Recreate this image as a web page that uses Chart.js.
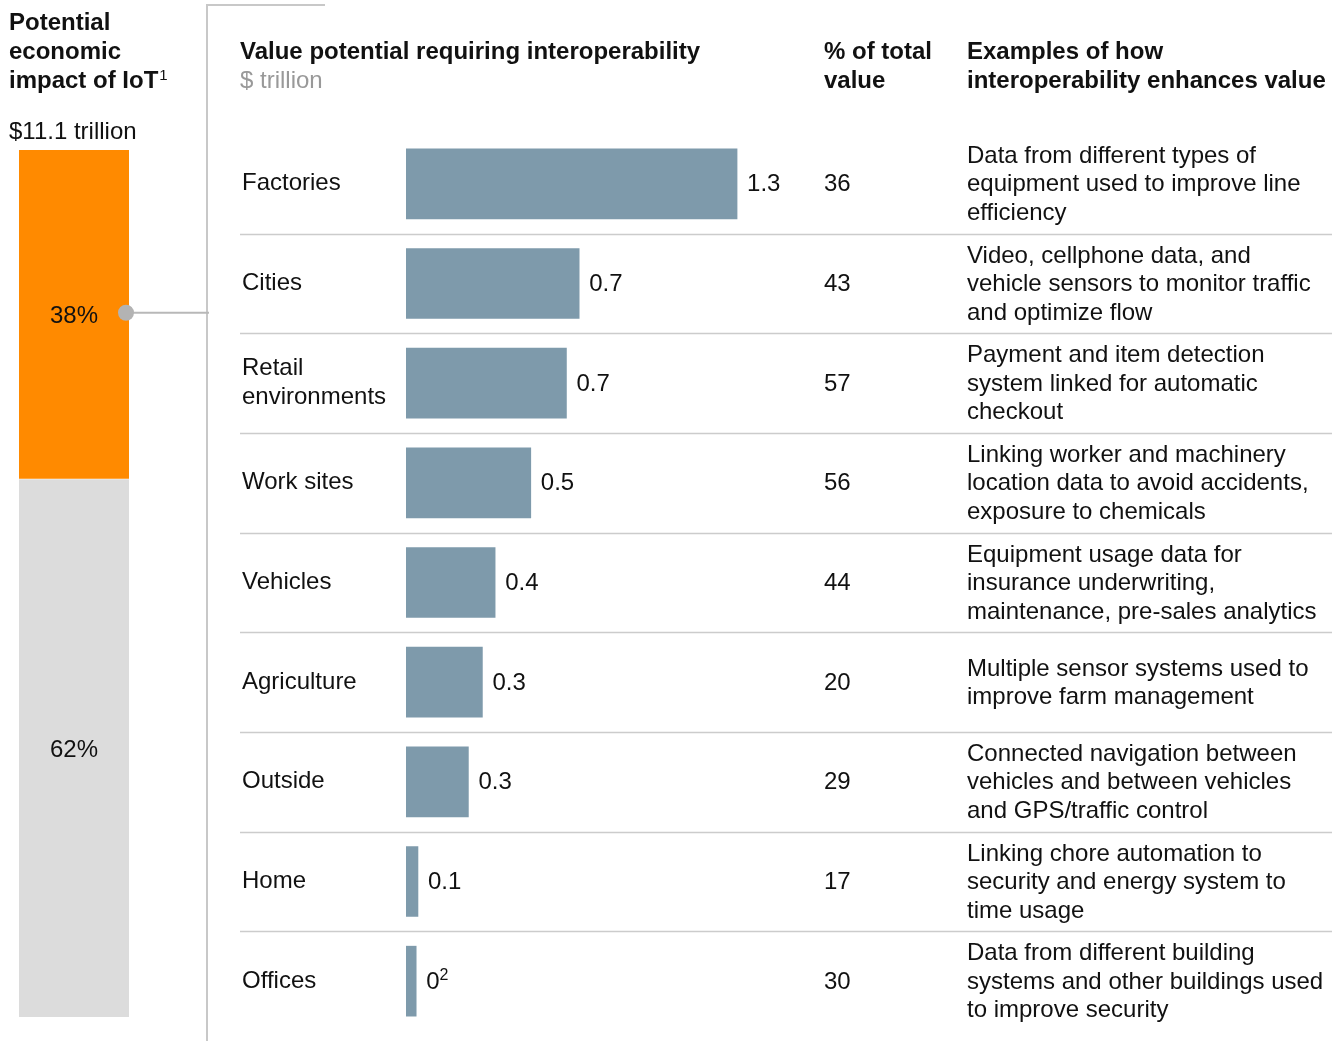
<!DOCTYPE html>
<html>
<head>
<meta charset="utf-8">
<script src="https://cdn.jsdelivr.net/npm/chart.js@4.4.1/dist/chart.umd.min.js"></script>
<style>
  body { margin: 0; background: #fff; overflow: hidden; }
  #main-chart { position: absolute; left: 0; top: 0; }
  #share-chart { position: absolute; left: 0; top: 0; }
</style>
</head>
<body>
<canvas id="main-chart" width="1337" height="1041"></canvas>
<canvas id="share-chart" width="212" height="1041"></canvas>
<script>
// categories and values
const categories = ['Factories', 'Cities', ['Retail', 'environments'], 'Work sites', 'Vehicles', 'Agriculture', 'Outside', 'Home', 'Offices'];
const barValues = [1.3, 0.68, 0.63, 0.49, 0.35, 0.3, 0.245, 0.047, 0.04];
const valueLabels = ['1.3', '0.7', '0.7', '0.5', '0.4', '0.3', '0.3', '0.1', '0'];
const valueNotes = ['', '', '', '', '', '', '', '', '2'];
const shareOfTotal = ['36', '43', '57', '56', '44', '20', '29', '17', '30'];
const examples = [
    ['Data from different types of', 'equipment used to improve line', 'efficiency'],
    ['Video, cellphone data, and', 'vehicle sensors to monitor traffic', 'and optimize flow'],
    ['Payment and item detection', 'system linked for automatic', 'checkout'],
    ['Linking worker and machinery', 'location data to avoid accidents,', 'exposure to chemicals'],
    ['Equipment usage data for', 'insurance underwriting,', 'maintenance, pre-sales analytics'],
    ['Multiple sensor systems used to', 'improve farm management'],
    ['Connected navigation between', 'vehicles and between vehicles', 'and GPS/traffic control'],
    ['Linking chore automation to', 'security and energy system to', 'time usage'],
    ['Data from different building', 'systems and other buildings used', 'to improve security']
];

// left stacked bar: share of total IoT impact
const shareLabels = ['62%', '38%'];
const shareValues = [62, 38];
const totalLabel = '$11.1 trillion';

const FONT = '"Liberation Sans", Arial, sans-serif';
const INK = '#111111';

const tablePlugin = {
    id: 'tableText',
    afterDraw(chart) {
        const ctx = chart.ctx;
        const yScale = chart.scales.y;
        const meta = chart.getDatasetMeta(0);
        ctx.save();

        // divider + top rule
        ctx.strokeStyle = '#c8c8c8';
        ctx.lineWidth = 2;
        ctx.beginPath();
        ctx.moveTo(207, 1041);
        ctx.lineTo(207, 5);
        ctx.lineTo(325, 5);
        ctx.stroke();

        // headers
        ctx.fillStyle = INK;
        ctx.textAlign = 'left';
        ctx.textBaseline = 'alphabetic';
        ctx.font = 'bold 24px ' + FONT;
        ctx.fillText('Value potential requiring interoperability', 240, 59);
        ctx.fillText('% of total', 824, 59);
        ctx.fillText('value', 824, 88);
        ctx.fillText('Examples of how', 967, 59);
        ctx.fillText('interoperability enhances value', 967, 88);
        ctx.fillStyle = '#999999';
        ctx.font = '24px ' + FONT;
        ctx.fillText('$ trillion', 240, 88);

        // row separators
        ctx.strokeStyle = '#cccccc';
        ctx.lineWidth = 1.5;
        for (let i = 0; i < categories.length - 1; i++) {
            const y = Math.round((yScale.getPixelForValue(i) + yScale.getPixelForValue(i + 1)) / 2) + 0.5;
            ctx.beginPath();
            ctx.moveTo(240, y);
            ctx.lineTo(1332, y);
            ctx.stroke();
        }

        // values, shares, examples
        ctx.textBaseline = 'middle';
        ctx.fillStyle = INK;
        meta.data.forEach((bar, i) => {
            const y = bar.y + 1;
            ctx.font = '24px ' + FONT;
            ctx.fillText(valueLabels[i], bar.x + 10, y);
            if (valueNotes[i]) {
                const w = ctx.measureText(valueLabels[i]).width;
                ctx.font = '16px ' + FONT;
                ctx.fillText(valueNotes[i], bar.x + 10 + w, y - 7);
                ctx.font = '24px ' + FONT;
            }
            ctx.fillText(shareOfTotal[i], 824, y);
            const lines = examples[i];
            const lh = 28.5;
            const start = y - (lines.length - 1) * lh / 2;
            lines.forEach((line, k) => ctx.fillText(line, 967, start + k * lh));
        });
        ctx.restore();
    }
};

new Chart(document.getElementById('main-chart').getContext('2d'), {
    type: 'bar',
    data: {
        labels: categories,
        datasets: [{
            label: 'Value potential requiring interoperability',
            data: barValues,
            backgroundColor: '#7e9aab',
            barThickness: 70
        }]
    },
    options: {
        indexAxis: 'y',
        responsive: false,
        animation: false,
        layout: { padding: { left: 242, right: 549, top: 134, bottom: 10 } },
        plugins: { legend: { display: false }, tooltip: { enabled: false } },
        scales: {
            x: { display: false, min: 0, max: 1.5 },
            y: {
                grid: { display: false },
                border: { display: false },
                ticks: {
                    crossAlign: 'far',
                    color: INK,
                    padding: 0,
                    font: { family: FONT, size: 24, lineHeight: 1.2 }
                },
                afterFit(scale) {
                    scale.width = 164;
                    scale.paddingTop = 0;
                    scale.paddingBottom = 0;
                }
            }
        }
    },
    plugins: [tablePlugin]
});

const sharePlugin = {
    id: 'shareText',
    afterDraw(chart) {
        const ctx = chart.ctx;
        ctx.save();
        ctx.fillStyle = INK;
        ctx.font = 'bold 24px ' + FONT;
        ctx.textAlign = 'left';
        ctx.textBaseline = 'alphabetic';
        ctx.fillText('Potential', 9, 30);
        ctx.fillText('economic', 9, 59);
        ctx.fillText('impact of IoT', 9, 88);
        const w = ctx.measureText('impact of IoT').width;
        ctx.font = '15px ' + FONT;
        ctx.fillText('1', 9 + w + 1, 80);
        ctx.font = '24px ' + FONT;
        ctx.fillText(totalLabel, 9, 139);

        ctx.textAlign = 'center';
        ctx.textBaseline = 'middle';
        chart.data.datasets.forEach((ds, i) => {
            const bar = chart.getDatasetMeta(i).data[0];
            ctx.fillText(shareLabels[i], bar.x, (bar.y + bar.base) / 2 + 2);
        });

        // connector from the interoperability share to the table
        const top = chart.getDatasetMeta(1).data[0];
        const cy = (top.y + top.base) / 2 - 2;
        const right = top.x + top.width / 2;
        ctx.strokeStyle = '#b8b8b8';
        ctx.lineWidth = 2;
        ctx.beginPath();
        ctx.moveTo(right - 3, cy);
        ctx.lineTo(209, cy);
        ctx.stroke();
        ctx.fillStyle = '#b3b3b3';
        ctx.beginPath();
        ctx.arc(right - 3, cy, 8, 0, Math.PI * 2);
        ctx.fill();
        ctx.restore();
    }
};

new Chart(document.getElementById('share-chart').getContext('2d'), {
    type: 'bar',
    data: {
        labels: ['IoT'],
        datasets: [
            { label: 'Other', data: [shareValues[0]], backgroundColor: '#dcdcdc' },
            { label: 'Requiring interoperability', data: [shareValues[1]], backgroundColor: '#ff8a00', borderColor: '#ffffff', borderWidth: { bottom: 1, top: 0, left: 0, right: 0 }, borderSkipped: false }
        ]
    },
    options: {
        responsive: false,
        animation: false,
        layout: { padding: { left: 19, right: 83, top: 150, bottom: 24 } },
        plugins: { legend: { display: false }, tooltip: { enabled: false } },
        datasets: { bar: { barPercentage: 1, categoryPercentage: 1 } },
        scales: {
            x: { display: false, stacked: true },
            y: { display: false, stacked: true, min: 0, max: 100 }
        }
    },
    plugins: [sharePlugin]
});
</script>
</body>
</html>
